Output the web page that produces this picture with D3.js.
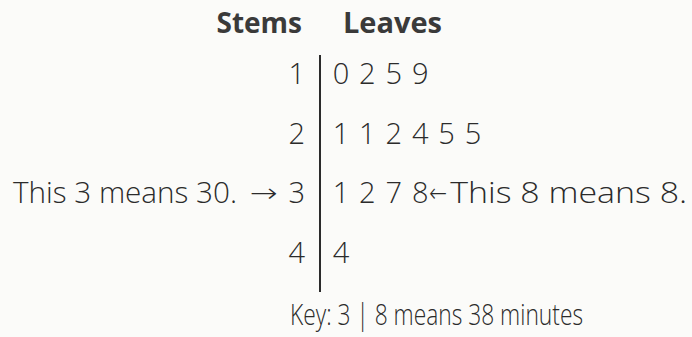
<!DOCTYPE html>
<html>
<head>
<meta charset="utf-8">
<script src="https://cdn.jsdelivr.net/npm/d3@7"></script>
<style>
  body { margin: 0; background: #fbfbf9; }
  svg { display: block; }
  text { font-family: "Open Sans", "Noto Sans", sans-serif; fill: #2b2b2b; }
  .arrow { font-family: "Noto Sans", "DejaVu Sans", sans-serif; font-weight: 200; }
</style>
</head>
<body>
<script>
// stem and leaf data
var stems = [1, 2, 3, 4];
var leaves = [[0, 2, 5, 9], [1, 1, 2, 4, 5, 5], [1, 2, 7, 8], [4]];
var headers = ["Stems", "Leaves"];
var leftNote = "This 3 means 30.";
var rightNote = "This 8 means 8.";
var keyText = "Key: 3 | 8 means 38 minutes";

var width = 692, height = 337;
var lineX = 320;

var svg = d3.select("body").append("svg")
    .attr("width", width)
    .attr("height", height);

// rows -> baseline
var y = d3.scalePoint().domain(stems).range([84, 263]);
// leaf index -> x of leaf centre
var x = d3.scaleLinear().domain([0, 5]).range([341, 473]);

// headers
svg.append("text").text(headers[0])
    .attr("x", 302).attr("y", 33)
    .attr("text-anchor", "end")
    .style("fill", "#3a3a3a")
    .style("font-weight", "bold").style("font-size", "28px");
svg.append("text").text(headers[1])
    .attr("x", 343).attr("y", 33)
    .attr("textLength", 99).attr("lengthAdjust", "spacingAndGlyphs")
    .style("fill", "#3a3a3a")
    .style("font-weight", "bold").style("font-size", "28px");

// divider
svg.append("line")
    .attr("x1", lineX).attr("x2", lineX)
    .attr("y1", 55).attr("y2", 292)
    .attr("stroke", "#2b2b2b").attr("stroke-width", 2);

// stems
svg.selectAll(".stem").data(stems).enter().append("text")
    .attr("class", "stem")
    .attr("x", 305)
    .attr("y", function(d) { return y(d); })
    .attr("text-anchor", "end")
    .style("font-size", "29px").style("font-weight", 300)
    .text(function(d) { return d; });

// leaves
stems.forEach(function(s, i) {
    svg.selectAll(".leaf" + s).data(leaves[i]).enter().append("text")
        .attr("class", "leaf" + s)
        .attr("x", function(d, j) { return x(j); })
        .attr("y", y(s))
        .attr("text-anchor", "middle")
        .style("font-size", "29px").style("font-weight", 300)
        .text(function(d) { return d; });
});

// notes on row 3
svg.append("text").text(leftNote)
    .attr("x", 13).attr("y", y(3))
    .attr("textLength", 224).attr("lengthAdjust", "spacingAndGlyphs")
    .style("font-size", "29px").style("font-weight", 300);
svg.append("text").attr("class", "arrow").text("\u2192")
    .attr("x", 250).attr("y", y(3) - 1)
    .attr("textLength", 28).attr("lengthAdjust", "spacingAndGlyphs")
    .style("font-size", "26px");

var lastLeaf = x(leaves[2].length - 1);
svg.append("text").attr("class", "arrow").text("\u2190")
    .attr("x", lastLeaf + 9).attr("y", y(3) - 1)
    .attr("textLength", 18).attr("lengthAdjust", "spacingAndGlyphs")
    .style("font-size", "26px");
svg.append("text").text(rightNote)
    .attr("x", lastLeaf + 30).attr("y", y(3))
    .attr("textLength", 237).attr("lengthAdjust", "spacingAndGlyphs")
    .style("font-size", "29px").style("font-weight", 300);

// key
svg.append("text").text(keyText)
    .attr("x", 290).attr("y", 325)
    .attr("textLength", 293).attr("lengthAdjust", "spacingAndGlyphs")
    .style("font-size", "29px").style("font-weight", 300);
</script>
</body>
</html>
